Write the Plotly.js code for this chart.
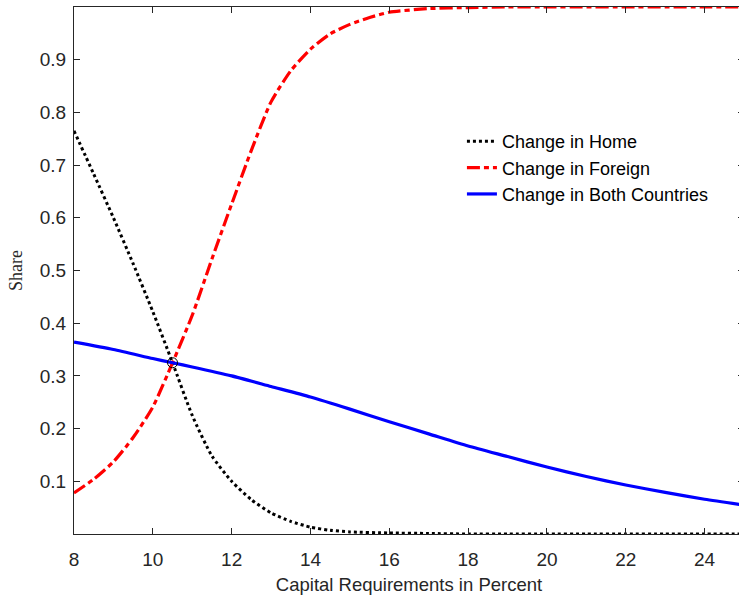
<!DOCTYPE html>
<html>
<head>
<meta charset="utf-8">
<script src="https://cdn.plot.ly/plotly-3.0.1.min.js"></script>
<style>
html,body{margin:0;padding:0;overflow:hidden;background:#fff;}
#chart{width:745px;height:601px;}
</style>
</head>
<body>
<div id="chart"></div>
<script>
// Capital requirements (percent)
const xHome = [8, 8.5, 9, 9.5, 10, 10.5, 11, 11.5, 12, 12.5, 13, 13.5, 14, 14.5, 15, 16, 17, 18, 19, 20, 21, 22, 23, 24, 25];
const homeShare = [0.765, 0.683, 0.600, 0.513, 0.422, 0.325, 0.225, 0.148, 0.100, 0.065, 0.040, 0.024, 0.013, 0.007, 0.004, 0.002, 0.001, 0, 0, 0, 0, 0, 0, 0, 0];

const xForeign = [8, 8.5, 9, 9.5, 10, 10.5, 11, 11.5, 12, 12.5, 13, 13.5, 14, 14.5, 15, 15.5, 16, 17, 18, 19, 20, 21, 22, 23, 24, 25];
const foreignShare = [0.078, 0.104, 0.137, 0.183, 0.241, 0.325, 0.415, 0.522, 0.626, 0.728, 0.820, 0.879, 0.920, 0.949, 0.967, 0.980, 0.990, 0.997, 0.999, 1, 1, 1, 1, 1, 1, 1];

const xBoth = [8, 9, 10, 10.5, 11, 12, 13, 14, 15, 16, 17, 18, 19, 20, 21, 22, 23, 24, 25];
const bothShare = [0.364, 0.350, 0.333, 0.325, 0.317, 0.300, 0.280, 0.260, 0.237, 0.213, 0.190, 0.167, 0.147, 0.127, 0.109, 0.093, 0.079, 0.066, 0.055];

const xCross = [10.5];
const yCross = [0.325];

const xTicks = [8, 10, 12, 14, 16, 18, 20, 22, 24];
const yTicks = [0.1, 0.2, 0.3, 0.4, 0.5, 0.6, 0.7, 0.8, 0.9];

const seriesNames = ['Change in Home', 'Change in Foreign', 'Change in Both Countries'];

const traces = [
  {x: xHome, y: homeShare, name: seriesNames[0], type: 'scatter', mode: 'lines',
   line: {color: '#000000', width: 3, dash: '3px,3px', shape: 'spline', smoothing: 0.6}},
  {x: xForeign, y: foreignShare, name: seriesNames[1], type: 'scatter', mode: 'lines',
   line: {color: '#ff0000', width: 3.2, dash: '13px,4px,5px,4px', shape: 'spline', smoothing: 0.6}},
  {x: xBoth, y: bothShare, name: seriesNames[2], type: 'scatter', mode: 'lines',
   line: {color: '#0000ff', width: 3.2, shape: 'spline', smoothing: 0.6}},
  {x: xCross, y: yCross, type: 'scatter', mode: 'markers', showlegend: false,
   marker: {symbol: 'circle-open', size: 10, color: '#000000', line: {width: 1, color: '#000000'}}}
];

const tickFont = {family: 'Liberation Sans, Arial, sans-serif', size: 19, color: '#262626'};
const axisCommon = {
  showline: true, linecolor: '#262626', linewidth: 1, mirror: 'ticks',
  ticks: 'inside', ticklen: 6, tickwidth: 1, tickcolor: '#262626',
  showgrid: false, zeroline: false, tickfont: tickFont
};

const layout = {
  width: 745, height: 601,
  margin: {l: 74, r: 1, t: 7, b: 67},
  paper_bgcolor: '#ffffff', plot_bgcolor: '#ffffff',
  showlegend: true,
  legend: {
    x: 0.579, y: 0.78, xanchor: 'left', yanchor: 'top',
    font: {family: 'Liberation Sans, Arial, sans-serif', size: 18, color: '#000000'},
    bgcolor: 'rgba(0,0,0,0)', borderwidth: 0
  },
  xaxis: Object.assign({}, axisCommon, {
    range: [8, 25], tickvals: xTicks, ticktext: xTicks.map(String),
    ticklabelstandoff: 8,
    title: {text: 'Capital Requirements in Percent', standoff: 9,
            font: {family: 'Liberation Sans, Arial, sans-serif', size: 18.5, color: '#262626'}}
  }),
  yaxis: Object.assign({}, axisCommon, {
    range: [0, 1], tickvals: yTicks, ticktext: yTicks.map(v => v.toFixed(1)),
    ticklabelstandoff: 3,
    title: {text: 'Share', standoff: 12,
            font: {family: 'Liberation Serif, DejaVu Serif, serif', size: 18, color: '#262626'}}
  })
};

Plotly.newPlot('chart', traces, layout, {displayModeBar: false, staticPlot: true});
</script>
</body>
</html>
